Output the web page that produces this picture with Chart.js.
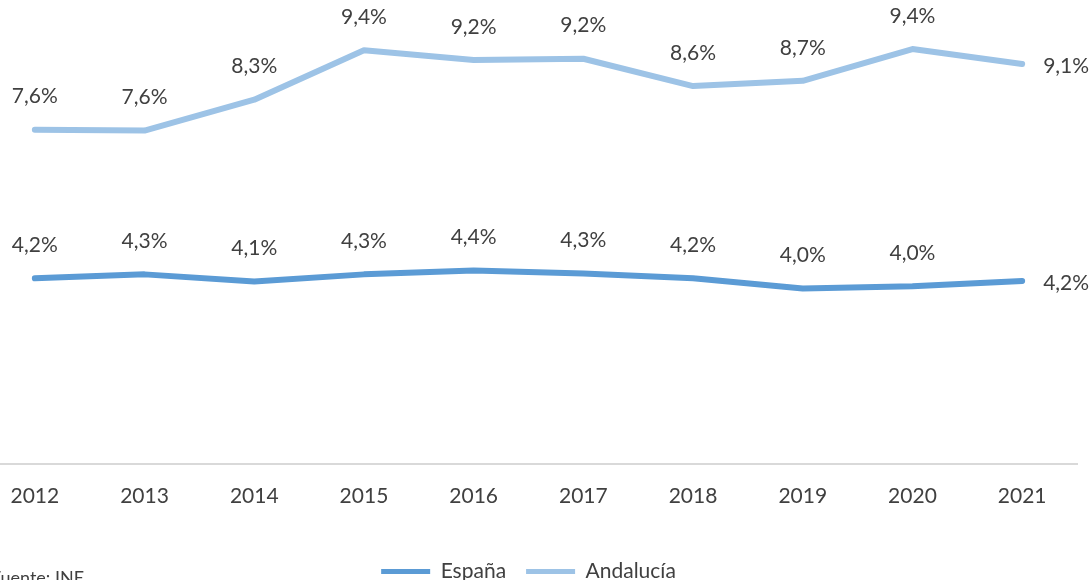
<!DOCTYPE html>
<html>
<head>
<meta charset="utf-8">
<script src="https://cdn.jsdelivr.net/npm/chart.js@4"></script>
<style>
  html, body { margin: 0; padding: 0; background: #fff; overflow: hidden; }
  body { width: 1090px; height: 580px; position: relative; }
  #wrap { position: absolute; left: -20px; top: 0; width: 1110px; height: 592px; }
  #fuente { position: absolute; left: -9px; top: 566px; font: 18px Lato, sans-serif; color: #404040; white-space: nowrap; }
</style>
</head>
<body>
<div id="wrap"><canvas id="myChart"></canvas></div>
<div id="fuente">Fuente: INE</div>
<script>
// datos (%)
var years = ["2012", "2013", "2014", "2015", "2016", "2017", "2018", "2019", "2020", "2021"];
var espana = [4.21, 4.30, 4.14, 4.30, 4.39, 4.32, 4.21, 3.98, 4.03, 4.15];
var andalucia = [7.58, 7.56, 8.26, 9.38, 9.16, 9.19, 8.57, 8.69, 9.41, 9.07];

var textColor = '#404040';

// etiquetas de datos encima de cada punto (la última a la derecha)
var pointLabels = {
  id: 'pointLabels',
  afterDatasetsDraw: function(chart) {
    var ctx = chart.ctx;
    ctx.save();
    ctx.font = '21px Lato';
    ctx.fillStyle = textColor;
    ctx.textBaseline = 'middle';
    chart.data.datasets.forEach(function(ds, i) {
      var meta = chart.getDatasetMeta(i);
      meta.data.forEach(function(pt, j) {
        var txt = ds.data[j].toFixed(1).replace('.', ',') + '%';
        if (j === meta.data.length - 1) {
          ctx.textAlign = 'left';
          ctx.fillText(txt, pt.x + 21, pt.y + 2);
        } else {
          ctx.textAlign = 'center';
          ctx.fillText(txt, pt.x, pt.y - 33);
        }
      });
    });
    ctx.restore();
  }
};

var ctx = document.getElementById('myChart').getContext('2d');

var myChart = new Chart(ctx, {
  type: 'line',
  data: {
    labels: years,
    datasets: [{
      label: 'España',
      data: espana,
      borderColor: '#5B9BD5',
      backgroundColor: '#5B9BD5',
      borderWidth: 6,
      pointRadius: 0,
      borderCapStyle: 'round',
      borderJoinStyle: 'round'
    }, {
      label: 'Andalucía',
      data: andalucia,
      borderColor: '#9DC3E6',
      backgroundColor: '#9DC3E6',
      borderWidth: 6,
      pointRadius: 0,
      borderCapStyle: 'round',
      borderJoinStyle: 'round'
    }]
  },
  options: {
    responsive: true,
    maintainAspectRatio: false,
    animation: false,
    layout: { padding: { top: 23, right: 13, left: 0, bottom: 0 } },
    plugins: {
      tooltip: { enabled: false },
      legend: {
        position: 'bottom',
        labels: {
          font: { family: 'Lato', size: 21 },
          color: textColor,
          boxWidth: 49,
          boxHeight: 5,
          padding: 20,
          generateLabels: function(chart) {
            return Chart.defaults.plugins.legend.labels.generateLabels(chart).map(function(l) {
              l.lineWidth = 0;
              return l;
            });
          }
        }
      }
    },
    scales: {
      x: {
        offset: true,
        grid: { display: false, drawTicks: false },
        border: { display: true, color: '#D9D9D9', width: 2 },
        ticks: { font: { family: 'Lato', size: 21 }, color: textColor, padding: 20 },
        afterFit: function(scale) { scale.height = 77; }
      },
      y: {
        display: false,
        min: 0,
        max: 10
      }
    }
  },
  plugins: [pointLabels]
});
</script>
</body>
</html>
